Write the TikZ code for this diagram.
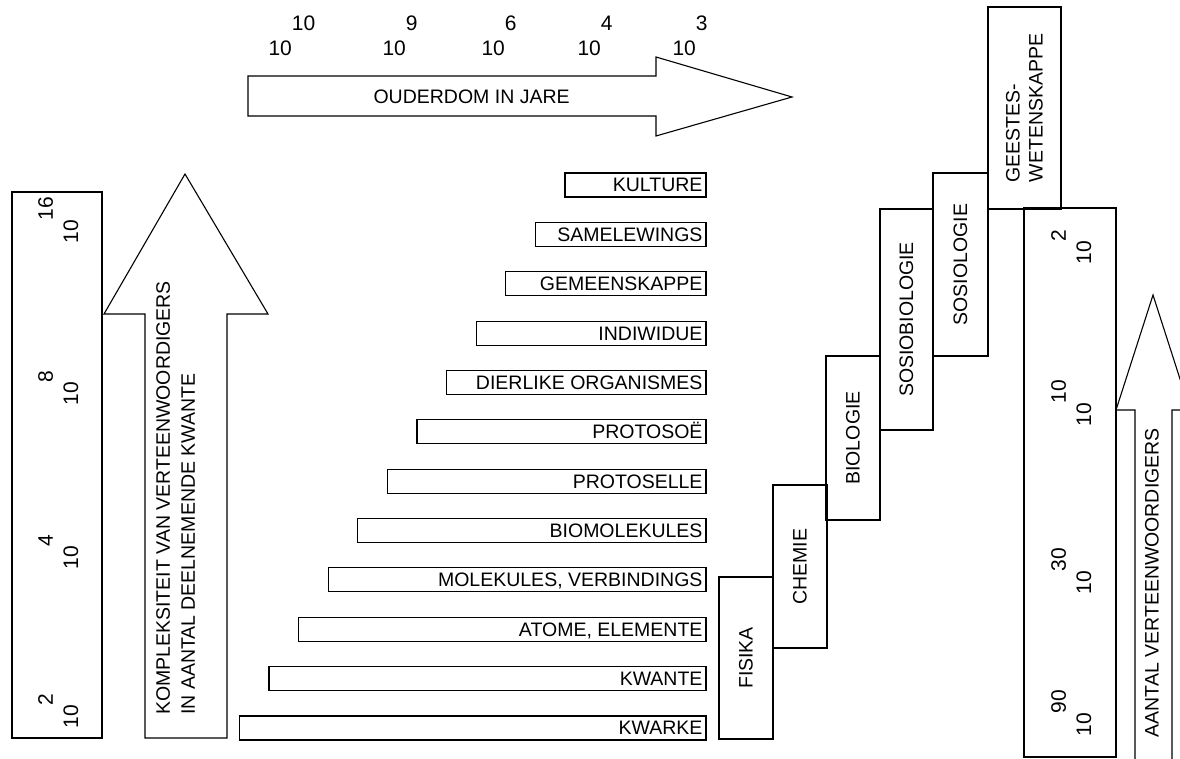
\documentclass[tikz,border=0pt]{standalone}
\usepackage{fontspec}
\setmainfont{Liberation Sans}
\newcommand{\tien}[1]{10\raisebox{1.2em}{#1}}

\begin{document}
\begin{tikzpicture}[x=1pt,y=-1pt,line width=1.1pt,
	lbl/.style={inner sep=0pt,font=\fontsize{19.5}{25}\selectfont},
	getal/.style={inner sep=0pt,anchor=base west,font=\fontsize{21}{25}\selectfont},
	vak/.style={draw,rotate=90,inner sep=0pt,align=left,font=\fontsize{19.5}{23}\selectfont}]
	\useasboundingbox (0,0) rectangle (1180,759);
	% ouderdom
	\draw (248,76) -- (656,76) -- (656,57) -- (792,97) -- (656,136) -- (656,116) -- (248,116) -- cycle;
	\node[lbl,anchor=west]			(ouderdom)	at (373,97)	{OUDERDOM IN JARE};
	\node[getal]	(t10)	at (268,56)	{\tien{10}};
	\node[getal]	(t9)	at (382,56)	{\tien{9}};
	\node[getal]	(t6)	at (481,56)	{\tien{6}};
	\node[getal]	(t4)	at (577,56)	{\tien{4}};
	\node[getal]	(t3)	at (672,56)	{\tien{3}};
	% kompleksiteit
	\draw (12,192) rectangle (102,738);
	\node[getal,rotate=90]	(k16)	at (78,244)	{\tien{16}};
	\node[getal,rotate=90]	(k8)	at (78,406)	{\tien{8}};
	\node[getal,rotate=90]	(k4)	at (78,570)	{\tien{4}};
	\node[getal,rotate=90]	(k2)	at (78,729)	{\tien{2}};
	\draw (145,738) -- (145,314) -- (104,314) -- (185,174) -- (268,314) -- (227,314) -- (227,738) -- cycle;
	\node[lbl,rotate=90,align=left]	(kompleks)	at (175.5,498)	{KOMPLEKSITEIT VAN VERTEENWOORDIGERS\\IN AANTAL DEELNEMENDE KWANTE};
	% vlakke
	\foreach \naam [count=\i from 0] in {KULTURE,SAMELEWINGS,GEMEENSKAPPE,INDIWIDUE,DIERLIKE ORGANISMES,PROTOSOË,PROTOSELLE,BIOMOLEKULES,{MOLEKULES, VERBINDINGS},{ATOME, ELEMENTE},KWANTE,KWARKE}{
		\pgfmathsetmacro{\links}{565-29.6*\i}
		\pgfmathsetmacro{\bo}{173+49.36*\i}
		\draw (\links,\bo) rectangle (706,\bo+24);
		\node[lbl,anchor=base east]	(b\i)	at (703,\bo+19)	{\naam};
	}
	% wetenskappe
	\node[vak,minimum width=162,minimum height=54]	(fisika)	at (746,658)	{FISIKA};
	\node[vak,minimum width=163,minimum height=54]	(chemie)	at (800,566.5)	{CHEMIE};
	\node[vak,minimum width=164,minimum height=54]	(biologie)	at (853,438)	{BIOLOGIE};
	\node[vak,minimum width=221,minimum height=53]	(sosiobio)	at (906.5,319.5)	{SOSIOBIOLOGIE};
	\node[vak,minimum width=183,minimum height=55]	(sosiologie)	at (960.5,264.5)	{SOSIOLOGIE};
	\node[vak,minimum width=202,minimum height=73]	(geestes)	at (1024.5,108)	{GEESTES-\\WETENSKAPPE};
	% aantal
	\draw (1024,208) rectangle (1116,757);
	\node[getal,rotate=90]	(a2)	at (1091,265)	{\tien{2}};
	\node[getal,rotate=90]	(a10)	at (1091,427)	{\tien{10}};
	\node[getal,rotate=90]	(a30)	at (1091,595)	{\tien{30}};
	\node[getal,rotate=90]	(a90)	at (1091,737)	{\tien{90}};
	\draw (1135,770) -- (1135,410) -- (1116,410) -- (1153,295) -- (1190,410) -- (1172,410) -- (1172,770);
	\node[lbl,rotate=90,anchor=west]	(aantal)	at (1152,738)	{AANTAL VERTEENWOORDIGERS};
\end{tikzpicture}
\end{document}
